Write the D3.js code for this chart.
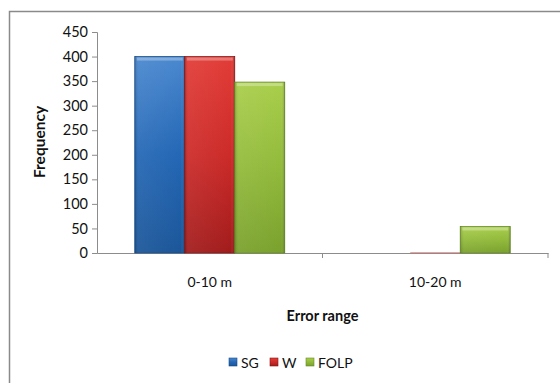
<!DOCTYPE html>
<html>
<head>
<meta charset="utf-8">
<script src="https://cdn.jsdelivr.net/npm/d3@7"></script>
<style>
  body { margin: 0; background: #fff; }
  svg { display: block; font-family: Lato, "Open Sans", sans-serif; }
</style>
</head>
<body>
<div id="chart"></div>
<script>
// data
const categories = ['0-10 m', '10-20 m'];
const seriesNames = ['SG', 'W', 'FOLP'];
const sgValues = [400, 0];
const wValues = [400, 1];
const folpValues = [348, 54];
const yTicks = [0, 50, 100, 150, 200, 250, 300, 350, 400, 450];

const seriesValues = [sgValues, wValues, folpValues];
const colors = {
  SG: { top: '#4a88cf', mid: '#2467b5', bot: '#1b5699', edge: '#174a86' },
  W: { top: '#e23c37', mid: '#cc2b29', bot: '#a21c1c', edge: '#861717' },
  FOLP: { top: '#a9ce4b', mid: '#92ba3b', bot: '#7aa12d', edge: '#648a24' }
};

const width = 560;
const height = 383;
const MARGIN_LEFT = 97;
const MARGIN_TOP = 32;
const plotW = 451;
const plotH = 221;

const $svg = d3.select('#chart').append('svg')
  .attr('width', width)
  .attr('height', height);

// gradients for the bevelled bars
const $defs = $svg.append('defs');
seriesNames.forEach(name => {
  const c = colors[name];
  const g = $defs.append('linearGradient')
    .attr('id', 'grad-' + name)
    .attr('x1', 0).attr('y1', 0).attr('x2', 0).attr('y2', 1);
  g.append('stop').attr('offset', '0%').attr('stop-color', c.top);
  g.append('stop').attr('offset', '50%').attr('stop-color', c.mid);
  g.append('stop').attr('offset', '100%').attr('stop-color', c.bot);
  const s = $defs.append('linearGradient')
    .attr('id', 'side-' + name)
    .attr('x1', 0).attr('y1', 0).attr('x2', 1).attr('y2', 0);
  s.append('stop').attr('offset', '0%').attr('stop-color', '#000').attr('stop-opacity', 0.15);
  s.append('stop').attr('offset', '8%').attr('stop-color', '#fff').attr('stop-opacity', 0.06);
  s.append('stop').attr('offset', '92%').attr('stop-color', '#fff').attr('stop-opacity', 0.0);
  s.append('stop').attr('offset', '100%').attr('stop-color', '#000').attr('stop-opacity', 0.2);
});

// outer frame
$svg.append('rect')
  .attr('x', 9.5).attr('y', 11.5)
  .attr('width', 600).attr('height', 400)
  .attr('fill', 'none')
  .attr('stroke', '#8a8a8a')
  .attr('stroke-width', 1.5);

const $vis = $svg.append('g')
  .attr('transform', `translate(${MARGIN_LEFT}, ${MARGIN_TOP})`);

const scaleX = d3.scaleBand()
  .domain(categories)
  .range([0, plotW])
  .paddingInner(0)
  .paddingOuter(0);

const scaleY = d3.scaleLinear()
  .domain([0, 450])
  .range([plotH, 0]);

const groupW = scaleX.bandwidth() * 0.665;
const scaleSub = d3.scaleBand()
  .domain(seriesNames)
  .range([(scaleX.bandwidth() - groupW) / 2, (scaleX.bandwidth() + groupW) / 2]);

// y axis
const axisY = $vis.append('g')
  .call(d3.axisLeft(scaleY).tickValues(yTicks).tickSize(5).tickPadding(4));
axisY.select('.domain').attr('stroke', '#8c8c8c');
axisY.selectAll('.tick line').attr('stroke', '#8c8c8c');
axisY.selectAll('.tick text')
  .attr('font-size', 14.5)
  .attr('fill', '#111')
  .attr('font-family', 'Lato, sans-serif');

// x axis
const axisX = $vis.append('g')
  .attr('transform', `translate(0, ${plotH})`)
  .call(d3.axisBottom(scaleX).tickSize(0).tickFormat(''));
axisX.select('.domain').attr('stroke', '#8c8c8c');
// category separators
$vis.append('g').selectAll('line')
  .data(categories)
  .join('line')
  .attr('x1', d => scaleX(d) + scaleX.bandwidth())
  .attr('x2', d => scaleX(d) + scaleX.bandwidth())
  .attr('y1', plotH)
  .attr('y2', plotH + 5)
  .attr('stroke', '#8c8c8c');

$vis.append('g').selectAll('text')
  .data(categories)
  .join('text')
  .attr('x', d => scaleX(d) + scaleX.bandwidth() / 2)
  .attr('y', plotH + 34)
  .attr('text-anchor', 'middle')
  .attr('font-size', 14)
  .attr('fill', '#111')
  .text(d => d);

// bars
const barData = [];
seriesNames.forEach((name, si) => {
  categories.forEach((cat, ci) => {
    barData.push({ name, cat, value: seriesValues[si][ci] });
  });
});

const $bars = $vis.append('g').selectAll('g')
  .data(barData.filter(d => d.value > 0))
  .join('g');

$bars.append('rect')
  .attr('x', d => scaleX(d.cat) + scaleSub(d.name))
  .attr('y', d => scaleY(d.value))
  .attr('width', scaleSub.bandwidth())
  .attr('height', d => plotH - scaleY(d.value))
  .attr('fill', d => d.value < 3 ? colors[d.name].top : `url(#grad-${d.name})`)
  .attr('stroke', d => d.value < 3 ? 'none' : colors[d.name].edge)
  .attr('stroke-width', 0.8);

$bars.filter(d => d.value >= 3).append('rect')
  .attr('x', d => scaleX(d.cat) + scaleSub(d.name))
  .attr('y', d => scaleY(d.value))
  .attr('width', scaleSub.bandwidth())
  .attr('height', d => plotH - scaleY(d.value))
  .attr('fill', d => `url(#side-${d.name})`);

// top bevel highlight
$bars.filter(d => d.value >= 3).append('rect')
  .attr('x', d => scaleX(d.cat) + scaleSub(d.name) + 2)
  .attr('y', d => scaleY(d.value) + 1)
  .attr('width', scaleSub.bandwidth() - 4)
  .attr('height', 3)
  .attr('fill', '#fff')
  .attr('opacity', 0.3);

// axis titles
$svg.append('text')
  .attr('transform', `translate(45, 142) rotate(-90)`)
  .attr('text-anchor', 'middle')
  .attr('font-size', 15.5)
  .attr('font-weight', 'bold')
  .attr('fill', '#111')
  .text('Frequency');

$svg.append('text')
  .attr('x', MARGIN_LEFT + plotW / 2)
  .attr('y', 321)
  .attr('text-anchor', 'middle')
  .attr('font-size', 14.5)
  .attr('font-weight', 'bold')
  .attr('fill', '#111')
  .text('Error range');

// legend
const legendX = [229, 270, 306];
const $legend = $svg.append('g').selectAll('g')
  .data(seriesNames)
  .join('g')
  .attr('transform', (d, i) => `translate(${legendX[i]}, 358)`);

$legend.append('rect')
  .attr('width', 8).attr('height', 8)
  .attr('fill', d => `url(#grad-${d})`)
  .attr('stroke', d => colors[d].edge)
  .attr('stroke-width', 0.6);

$legend.append('text')
  .attr('x', 12)
  .attr('y', 9.5)
  .attr('font-size', 14)
  .attr('fill', '#111')
  .text(d => d);
</script>
</body>
</html>
